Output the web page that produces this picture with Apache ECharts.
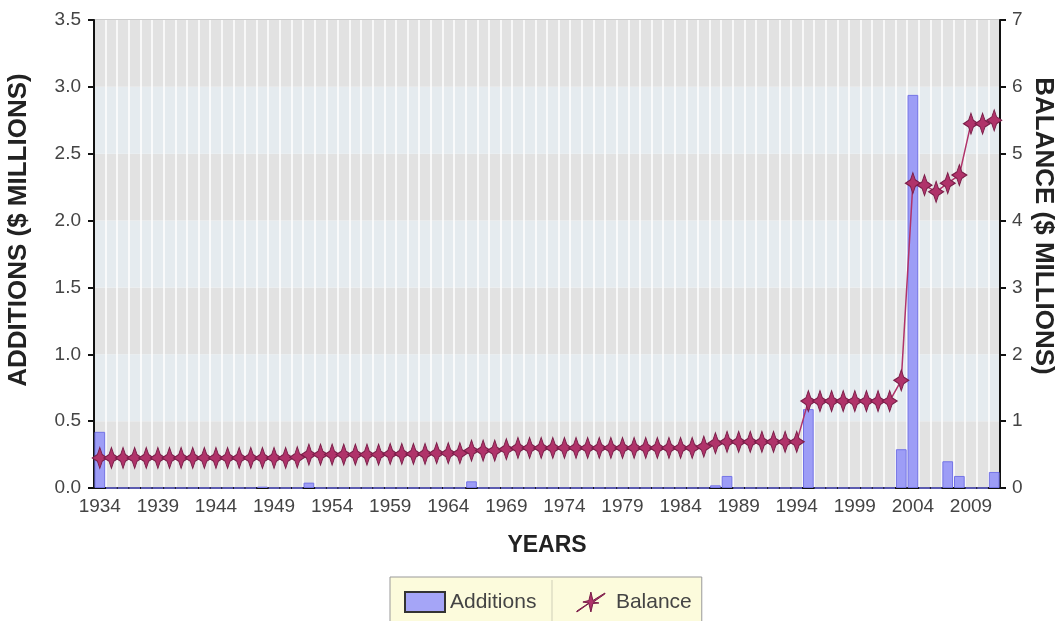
<!DOCTYPE html>
<html>
<head>
<meta charset="utf-8">
<title>Additions and Balance</title>
<script src="https://cdn.jsdelivr.net/npm/echarts@6/dist/echarts.min.js"></script>
<style>
html, body {
	margin: 0;
	padding: 0;
	background: #fff;
}
#chart {
	width: 1058px;
	height: 621px;
}
</style>
</head>
<body>
	<div id="chart"></div>
	<script type="text/javascript">
		// years 1934 - 2011
		var years = [];
		for (var y = 1934; y <= 2011; y++) {
			years.push(String(y));
		}

		// additions ($ millions), left axis
		var additions = [
			0.42, 0, 0, 0, 0, 0, 0, 0, 0, 0,          // 1934-1943
			0, 0, 0, 0, 0.01, 0, 0, 0, 0.04, 0,       // 1944-1953
			0, 0, 0, 0, 0, 0, 0, 0, 0, 0,             // 1954-1963
			0, 0, 0.05, 0, 0, 0, 0, 0, 0, 0,          // 1964-1973
			0, 0, 0, 0, 0, 0, 0, 0, 0, 0,             // 1974-1983
			0, 0, 0, 0.02, 0.09, 0, 0, 0, 0, 0,       // 1984-1993
			0, 0.59, 0, 0, 0, 0, 0, 0, 0, 0.29,       // 1994-2003
			2.94, 0, 0, 0.2, 0.09, 0, 0, 0.12         // 2004-2011
		];

		// balance ($ millions), right axis
		var balance = [
			0.45, 0.45, 0.45, 0.45, 0.45, 0.45, 0.45, 0.45, 0.45, 0.45,   // 1934-1943
			0.45, 0.45, 0.45, 0.45, 0.45, 0.45, 0.45, 0.46, 0.5, 0.5,     // 1944-1953
			0.5, 0.5, 0.5, 0.5, 0.5, 0.51, 0.51, 0.51, 0.51, 0.52,        // 1954-1963
			0.52, 0.52, 0.56, 0.56, 0.56, 0.58, 0.6, 0.6, 0.6, 0.6,       // 1964-1973
			0.6, 0.6, 0.6, 0.6, 0.6, 0.6, 0.6, 0.6, 0.6, 0.6,             // 1974-1983
			0.6, 0.6, 0.62, 0.67, 0.69, 0.69, 0.69, 0.69, 0.69, 0.69,     // 1984-1993
			0.69, 1.3, 1.3, 1.3, 1.3, 1.3, 1.3, 1.3, 1.3, 1.61,           // 1994-2003
			4.56, 4.53, 4.43, 4.56, 4.68, 5.45, 5.45, 5.5                 // 2004-2011
		];

		var leftTicks = ['0.0', '0.5', '1.0', '1.5', '2.0', '2.5', '3.0', '3.5'];

		var star = 'path://M0,-10 L3.2,-3.2 L10,0 L3.2,3.2 L0,10 L-3.2,3.2 L-10,0 L-3.2,-3.2 Z';
		var starLegend = 'path://M-14,9 L-2,1 L-8,0 L-2,-1.5 L0,-10 L2,-1.5 L14,-9 L14,-8 L2.5,0 L8,1 L2,1.5 L0,10 L-2,1.5 L-14,10 Z';

		var dom = document.getElementById('chart');
		var myChart = echarts.init(dom);

		var fontName = 'Liberation Sans, Arial, sans-serif';
		var axisFont = {
			color: '#444',
			fontSize: 19,
			fontFamily: fontName
		};

		var option = {
			animation: false,
			backgroundColor: '#fff',
			grid: {
				left: 94,
				right: 58,
				top: 20,
				bottom: 133,
				outerBoundsMode: 'none',
				show: true,
				borderColor: '#999',
				borderWidth: 1,
				backgroundColor: 'transparent'
			},
			// axis titles, placed as in the original
			graphic: [
				{
					type: 'text',
					x: 19,
					y: 230,
					rotation: Math.PI / 2,
					style: {
						text: 'ADDITIONS ($ MILLIONS)',
						fill: '#222',
						font: 'bold 26px ' + fontName,
						align: 'center',
						verticalAlign: 'middle'
					}
				},
				{
					type: 'text',
					x: 1043,
					y: 226,
					rotation: -Math.PI / 2,
					style: {
						text: 'BALANCE ($ MILLIONS)',
						fill: '#222',
						font: 'bold 26px ' + fontName,
						align: 'center',
						verticalAlign: 'middle'
					}
				},
				// divider between the two legend entries
				{
					type: 'line',
					z: 100,
					shape: { x1: 552, y1: 580, x2: 552, y2: 621 },
					style: { stroke: '#cfcfb8', lineWidth: 1 }
				}
			],
			legend: {
				bottom: -12,
				left: 390,
				backgroundColor: '#fcfbdc',
				borderColor: '#999',
				borderWidth: 1,
				padding: [14, 10, 20, 14],
				itemGap: 40,
				itemWidth: 40,
				itemHeight: 20,
				textStyle: {
					color: '#444',
					fontSize: 21,
					fontFamily: fontName
				},
				data: [
					{ name: 'Additions', icon: 'rect', itemStyle: { color: '#a5a5f7', borderColor: '#333', borderWidth: 2 } },
					{ name: 'Balance', icon: starLegend, itemStyle: { color: '#b0336a', borderColor: '#7a1d48', borderWidth: 1 } }
				]
			},
			xAxis: {
				type: 'category',
				data: years,
				name: 'YEARS',
				nameLocation: 'middle',
				nameGap: 46,
				nameTextStyle: {
					color: '#222',
					fontSize: 23,
					fontWeight: 'bold',
					fontFamily: fontName
				},
				axisLine: { lineStyle: { color: '#111', width: 2 } },
				axisTick: {
					alignWithLabel: true,
					interval: 4,
					length: 7,
					lineStyle: { color: '#111', width: 2 }
				},
				axisLabel: Object.assign({ interval: 4, margin: 9 }, axisFont),
				splitLine: {
					show: true,
					interval: 0,
					lineStyle: { color: 'rgba(255,255,255,0.75)', width: 2 }
				}
			},
			yAxis: [
				{
					type: 'value',
					min: 0,
					max: 3.5,
					interval: 0.5,
					axisLine: { show: true, lineStyle: { color: '#111', width: 2 } },
					axisTick: { show: true, length: 6, lineStyle: { color: '#111', width: 2 } },
					axisLabel: Object.assign({
						margin: 13,
						formatter: function (v) {
							return leftTicks[Math.round(v / 0.5)];
						}
					}, axisFont),
					splitLine: { show: false },
					splitArea: {
						show: true,
						areaStyle: { color: ['#e2e2e2', '#e5ebef'] }
					}
				},
				{
					type: 'value',
					min: 0,
					max: 7,
					interval: 1,
					position: 'right',
					axisLine: { show: true, lineStyle: { color: '#111', width: 2 } },
					axisTick: { show: true, length: 6, lineStyle: { color: '#111', width: 2 } },
					axisLabel: Object.assign({ margin: 12 }, axisFont),
					splitLine: { show: false }
				}
			],
			series: [
				{
					name: 'Additions',
					type: 'bar',
					yAxisIndex: 0,
					data: additions,
					barCategoryGap: '8%',
					itemStyle: {
						color: '#9d9df6',
						borderColor: '#7474e6',
						borderWidth: 1
					}
				},
				{
					name: 'Balance',
					type: 'line',
					yAxisIndex: 1,
					data: balance,
					symbol: star,
					symbolSize: [15, 21],
					showAllSymbol: true,
					lineStyle: { color: '#b0336a', width: 1.5 },
					itemStyle: {
						color: '#b0336a',
						borderColor: '#7a1d48',
						borderWidth: 1
					},
					z: 5
				}
			]
		};

		myChart.setOption(option, true);
	</script>
</body>
</html>
